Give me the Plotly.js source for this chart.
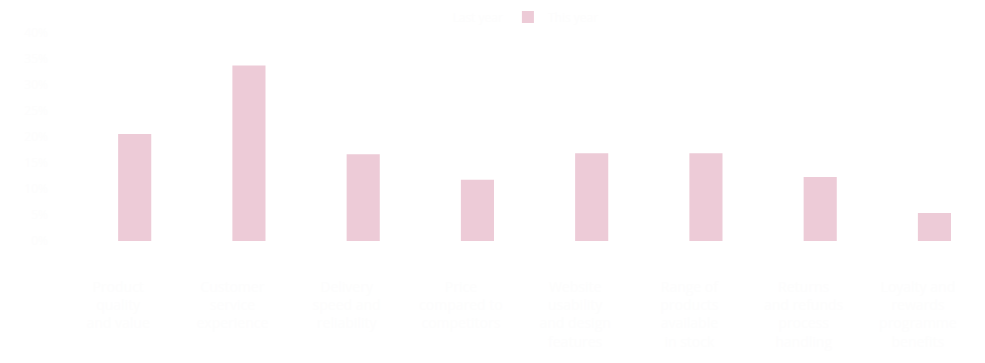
<!DOCTYPE html>
<html>
<head>
<meta charset="utf-8">
<script src="https://cdn.plot.ly/plotly-3.0.1.min.js"></script>
<style>html,body{margin:0;padding:0;background:#fff;}#chart{width:985px;height:363px;}</style>
</head>
<body>
<div id="chart"></div>
<script>
// Category labels (multi-line)
var categories = [
  "Product<br>quality<br>and value",
  "Customer<br>service<br>experience",
  "Delivery<br>speed and<br>reliability",
  "Price<br>compared to<br>competitors",
  "Website<br>usability<br>and design<br>features",
  "Range of<br>products<br>available<br>in stock",
  "Returns<br>and refunds<br>process<br>handling",
  "Loyalty and<br>rewards<br>programme<br>benefits"
];
// Series values (percent)
var seriesAName = "Last year";
var seriesBName = "This year";
var seriesA = [3.0, 4.0, 2.5, 1.5, 2.5, 2.5, 2.0, 1.0];
var seriesB = [20.6, 33.8, 16.7, 11.8, 16.9, 16.9, 12.3, 5.4];
// Y tick values / labels
var yTickVals = [0, 5, 10, 15, 20, 25, 30, 35, 40];
var yTickText = ["0%", "5%", "10%", "15%", "20%", "25%", "30%", "35%", "40%"];

var faint = "#fdfdfd";

var traces = [
  {type: "bar", name: seriesAName, x: categories, y: seriesA,
   marker: {color: "#ffffff"}, hoverinfo: "skip"},
  {type: "bar", name: seriesBName, x: categories, y: seriesB,
   marker: {color: "#edcbd7"}}
];

var layout = {
  width: 985, height: 363,
  margin: {l: 61, r: 10, t: 28, b: 122, pad: 0, autoexpand: false},
  paper_bgcolor: "#ffffff", plot_bgcolor: "#ffffff",
  font: {family: "Open Sans, sans-serif", size: 12, color: faint},
  barmode: "group", bargap: 0.42, bargroupgap: 0,
  showlegend: true,
  legend: {orientation: "h", x: 0.489, xanchor: "center", y: 0.953, yref: "container", yanchor: "middle",
           font: {color: faint, size: 12}, bgcolor: "rgba(0,0,0,0)"},
  xaxis: {showgrid: false, zeroline: false, showline: false, ticks: "",
          tickfont: {color: faint, size: 14}, ticklabelstandoff: 36, automargin: false},
  yaxis: {range: [0, 41], tickvals: yTickVals, ticktext: yTickText,
          showgrid: false, zeroline: false, showline: false, ticks: "",
          tickfont: {color: faint, size: 12}, ticklabelstandoff: 12, automargin: false}
};

Plotly.newPlot("chart", traces, layout, {displayModeBar: false, staticPlot: true});
</script>
</body>
</html>
